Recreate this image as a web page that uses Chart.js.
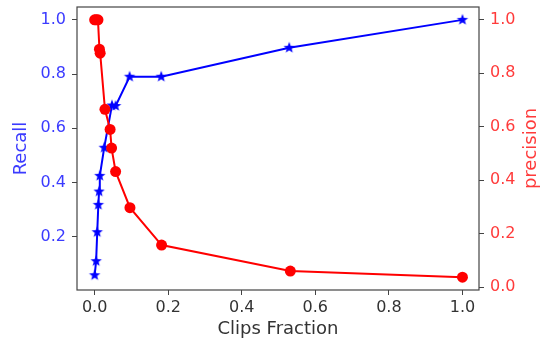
<!DOCTYPE html>
<html>
<head>
<meta charset="utf-8">
<script src="https://cdn.jsdelivr.net/npm/chart.js@4"></script>
<style>
  html, body { margin: 0; padding: 0; background: #fff; }
  #wrap { width: 544px; height: 343px; }
</style>
</head>
<body>
<div id="wrap"><canvas id="pr"></canvas></div>
<script>
// clips fraction vs recall
const recallX = [0.0, 0.004, 0.007, 0.010, 0.012, 0.014, 0.026, 0.047, 0.057, 0.095, 0.181, 0.529, 1.0];
const recallY = [0.057, 0.109, 0.216, 0.317, 0.366, 0.424, 0.528, 0.684, 0.682, 0.790, 0.790, 0.897, 1.0];

// clips fraction vs precision
const precX = [0.0, 0.004, 0.009, 0.013, 0.015, 0.028, 0.042, 0.046, 0.057, 0.096, 0.182, 0.532, 1.0];
const precY = [1.0, 1.0, 1.0, 0.890, 0.875, 0.665, 0.590, 0.520, 0.432, 0.297, 0.157, 0.060, 0.037];

const xTicks = [0.0, 0.2, 0.4, 0.6, 0.8, 1.0];
const recallTicks = [0.2, 0.4, 0.6, 0.8, 1.0];
const precTicks = [0.0, 0.2, 0.4, 0.6, 0.8, 1.0];

const BLUE = 'blue', RED = 'red';
const BLUE_TXT = '#3b3bff', RED_TXT = '#ff3b3b';
const FONT = 'DejaVu Sans';

// filled five-point star marker
function starMarker(r, color) {
    const c = document.createElement('canvas');
    const s = Math.ceil(r * 2 + 2);
    c.width = s; c.height = s;
    const g = c.getContext('2d');
    g.fillStyle = color;
    g.beginPath();
    for (let i = 0; i < 10; i++) {
        const rad = i % 2 ? r * 0.42 : r;
        const a = -Math.PI / 2 + i * Math.PI / 5;
        const px = s / 2 + rad * Math.cos(a), py = s / 2 + rad * Math.sin(a);
        i ? g.lineTo(px, py) : g.moveTo(px, py);
    }
    g.closePath();
    g.fill();
    return c;
}

const pts = (xs, ys) => xs.map((x, i) => ({ x: x, y: ys[i] }));
const fixTicks = arr => scale => { scale.ticks = arr.map(v => ({ value: v })); };
// fixed axis box sizes, no extra room for overhanging labels
const fitW = w => s => { s.width = w; s.paddingTop = 0; s.paddingBottom = 0; };
const fitH = h => s => { s.height = h; s.paddingLeft = 0; s.paddingRight = 0; };

// box around the plot and the right-hand axis label
const frame = {
    id: 'frame',
    afterDatasetsDraw(chart) {
        const { ctx, chartArea: a } = chart;
        ctx.save();
        ctx.strokeStyle = '#444';
        ctx.lineWidth = 1.2;
        ctx.strokeRect(a.left, a.top, a.right - a.left, a.bottom - a.top);
        ctx.restore();
    },
    afterDraw(chart) {
        const { ctx, chartArea: a } = chart;
        ctx.save();
        ctx.translate(531, (a.top + a.bottom) / 2);
        ctx.rotate(-Math.PI / 2);
        ctx.fillStyle = RED_TXT;
        ctx.font = '18px "' + FONT + '"';
        ctx.textAlign = 'center';
        ctx.textBaseline = 'middle';
        ctx.fillText('precision', 0, 0);
        ctx.restore();
    }
};

const gridOpts = { display: true, drawOnChartArea: false, drawTicks: true, tickLength: 5, color: '#444' };

new Chart(document.getElementById('pr'), {
    type: 'scatter',
    data: {
        datasets: [{
            label: 'precision',
            data: pts(precX, precY),
            yAxisID: 'yP',
            showLine: true,
            borderColor: RED,
            borderWidth: 2,
            pointStyle: 'circle',
            pointRadius: 5.5,
            pointBackgroundColor: RED,
            pointBorderColor: RED,
            pointBorderWidth: 0,
            order: 0
        }, {
            label: 'Recall',
            data: pts(recallX, recallY),
            yAxisID: 'yR',
            showLine: true,
            borderColor: BLUE,
            borderWidth: 2,
            pointStyle: starMarker(6, BLUE),
            pointBackgroundColor: BLUE,
            order: 1
        }]
    },
    options: {
        responsive: true,
        maintainAspectRatio: false,
        animation: false,
        layout: { padding: { top: 7, left: 0, right: 0, bottom: 0 } },
        plugins: { legend: { display: false }, tooltip: { enabled: false } },
        scales: {
            x: {
                type: 'linear',
                min: -0.048,
                max: 1.045,
                afterBuildTicks: fixTicks(xTicks),
                afterFit: fitH(53),
                grid: gridOpts,
                border: { display: false },
                ticks: {
                    autoSkip: false, maxRotation: 0, padding: 3, color: '#333',
                    font: { family: FONT, size: 16 },
                    callback: v => v.toFixed(1)
                },
                title: {
                    display: true, text: 'Clips Fraction', color: '#333',
                    font: { family: FONT, size: 18 },
                    padding: { top: 0, bottom: 3 }
                }
            },
            yR: {
                type: 'linear',
                position: 'left',
                min: 0.0025,
                max: 1.0475,
                afterBuildTicks: fixTicks(recallTicks),
                afterFit: fitW(77),
                grid: gridOpts,
                border: { display: false },
                ticks: {
                    autoSkip: false, padding: 6, color: BLUE_TXT,
                    font: { family: FONT, size: 16 },
                    callback: v => v.toFixed(1)
                },
                title: {
                    display: true, text: 'Recall', color: BLUE_TXT,
                    font: { family: FONT, size: 18 },
                    padding: { top: 11, bottom: 0 }
                }
            },
            yP: {
                type: 'linear',
                position: 'right',
                min: -0.011,
                max: 1.048,
                afterBuildTicks: fixTicks(precTicks),
                afterFit: fitW(65),
                grid: gridOpts,
                border: { display: false },
                ticks: {
                    autoSkip: false, padding: 6, color: RED_TXT,
                    font: { family: FONT, size: 16 },
                    callback: v => v.toFixed(1)
                },
                title: { display: false }
            }
        }
    },
    plugins: [frame]
});
</script>
</body>
</html>
